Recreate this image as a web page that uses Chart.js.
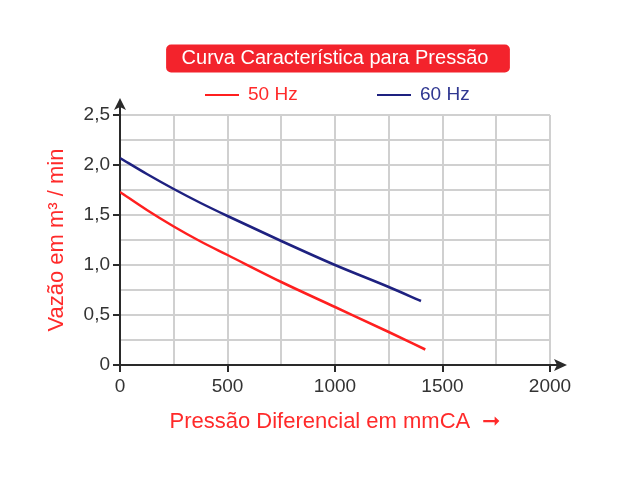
<!DOCTYPE html>
<html>
<head>
<meta charset="utf-8">
<script src="https://cdn.jsdelivr.net/npm/chart.js@4.4.1/dist/chart.umd.min.js"></script>
<style>
html,body{margin:0;padding:0;background:#fff;}
#wrap{width:640px;height:480px;position:relative;}
</style>
</head>
<body>
<div id="wrap"><canvas id="c" width="640" height="480"></canvas></div>
<script>
// ---- data ----
const chartTitle = "Curva Característica para Pressão";
const seriesNames = ["50 Hz", "60 Hz"];
const pressure50 = [0, 125, 250, 375, 500, 750, 1000, 1250, 1420];
const flow50     = [1.73, 1.55, 1.385, 1.235, 1.10, 0.83, 0.58, 0.33, 0.155];
const pressure60 = [0, 125, 250, 375, 500, 750, 1000, 1250, 1400];
const flow60     = [2.07, 1.91, 1.76, 1.62, 1.49, 1.24, 1.00, 0.78, 0.64];
const xTickLabels = ["0", "500", "1000", "1500", "2000"];
const yTickLabels = ["0", "0,5", "1,0", "1,5", "2,0", "2,5"];
const xAxisTitle = "Pressão Diferencial em mmCA  ➞";
const yAxisTitle = "Vazão em m³ / min";

const RED = '#ff1f1f';
const RED_TEXT = '#ff2a2a';
const BOX_RED = '#f3232c';
const BLUE = '#1e2180';
const BLUE_TEXT = '#2f3791';
const FONT = "'Liberation Sans', Arial, sans-serif";

const toPts = (xs, ys) => xs.map((x, i) => ({x: x, y: ys[i]}));

const decor = {
  id: 'decor',
  beforeDraw(chart) {
    const ctx = chart.ctx;
    const tb = chart.titleBlock;
    ctx.save();
    ctx.font = "20px " + FONT;
    const tw = ctx.measureText(chartTitle).width;
    const cx = (tb.left + tb.right) / 2 + 3;
    const cy = tb.top + tb.options.padding.top + 12;
    const w = tw + 37, h = 28;
    ctx.fillStyle = BOX_RED;
    ctx.beginPath();
    ctx.roundRect(cx - w / 2, cy - h / 2, w, h, 5);
    ctx.fill();
    ctx.restore();
  },
  afterDraw(chart) {
    const ctx = chart.ctx;
    const a = chart.chartArea;
    const xs = chart.scales.x, ys = chart.scales.y;
    const x0 = xs.getPixelForValue(0), y0 = ys.getPixelForValue(0);
    ctx.save();
    ctx.strokeStyle = '#2a2a2a';
    ctx.fillStyle = '#2a2a2a';
    ctx.lineWidth = 2;
    // y arrow
    ctx.beginPath();
    ctx.moveTo(x0, a.top); ctx.lineTo(x0, a.top - 10); ctx.stroke();
    ctx.beginPath();
    ctx.moveTo(x0, a.top - 17); ctx.lineTo(x0 - 6, a.top - 5); ctx.lineTo(x0, a.top - 8); ctx.lineTo(x0 + 6, a.top - 5); ctx.closePath(); ctx.fill();
    // x arrow
    ctx.beginPath();
    ctx.moveTo(a.right, y0); ctx.lineTo(a.right + 8, y0); ctx.stroke();
    ctx.beginPath();
    ctx.moveTo(a.right + 17, y0); ctx.lineTo(a.right + 4, y0 - 6); ctx.lineTo(a.right + 7, y0); ctx.lineTo(a.right + 4, y0 + 6); ctx.closePath(); ctx.fill();
    // legend
    const cxm = (a.left + a.right) / 2;
    const ly = 95;
    ctx.font = "19px " + FONT;
    ctx.textBaseline = 'middle';
    ctx.textAlign = 'left';
    const items = [
      {x: cxm - 130, color: RED, text: seriesNames[0], tc: RED_TEXT},
      {x: cxm + 42, color: BLUE, text: seriesNames[1], tc: BLUE_TEXT}
    ];
    items.forEach(it => {
      ctx.strokeStyle = it.color;
      ctx.lineWidth = 2;
      ctx.beginPath(); ctx.moveTo(it.x, ly); ctx.lineTo(it.x + 34, ly); ctx.stroke();
      ctx.fillStyle = it.tc;
      ctx.fillText(it.text, it.x + 43, ly);
    });
    ctx.restore();
  }
};

new Chart(document.getElementById('c'), {
  type: 'line',
  data: {
    datasets: [
      {label: seriesNames[0], data: toPts(pressure50, flow50), borderColor: RED, borderWidth: 2.5, pointRadius: 0, cubicInterpolationMode: 'monotone', fill: false},
      {label: seriesNames[1], data: toPts(pressure60, flow60), borderColor: BLUE, borderWidth: 2.5, pointRadius: 0, cubicInterpolationMode: 'monotone', fill: false}
    ]
  },
  options: {
    responsive: false,
    animation: false,
    devicePixelRatio: 1,
    layout: {padding: {left: 44, right: 90, top: 0, bottom: 0}},
    plugins: {
      legend: {display: false},
      tooltip: {enabled: false},
      title: {
        display: true, text: chartTitle, fullSize: false, color: '#ffffff',
        font: {family: FONT, size: 20, weight: 'normal', lineHeight: 1.2},
        padding: {top: 46.5, bottom: 44.5}
      }
    },
    scales: {
      x: {
        type: 'linear', min: 0, max: 2000,
        afterFit: s => { s.height = 115; },
        ticks: {
          stepSize: 250, autoSkip: false, maxRotation: 0, color: '#333', padding: 3,
          font: {family: FONT, size: 19},
          callback: v => (v % 500 === 0 ? xTickLabels[v / 500] : '')
        },
        grid: {
          color: '#d0d0d0', lineWidth: 2, tickLength: 7,
          tickColor: c => (c.tick && c.tick.value % 500 === 0 ? '#2a2a2a' : 'rgba(0,0,0,0)')
        },
        border: {color: '#2a2a2a', width: 2},
        title: {display: true, text: xAxisTitle, color: RED_TEXT, font: {family: FONT, size: 22}, padding: {top: 0, bottom: 45}}
      },
      y: {
        type: 'linear', min: 0, max: 2.5,
        afterFit: s => { s.width = 76; },
        ticks: {
          stepSize: 0.25, autoSkip: false, color: '#333', padding: 3,
          font: {family: FONT, size: 19},
          callback: v => { const k = Math.round(v * 2); return Math.abs(v * 2 - k) < 1e-6 ? yTickLabels[k] : ''; }
        },
        grid: {
          color: '#d0d0d0', lineWidth: 2, tickLength: 7,
          tickColor: c => { if (!c.tick) return 'rgba(0,0,0,0)'; const v = c.tick.value * 2; return Math.abs(v - Math.round(v)) < 1e-6 ? '#2a2a2a' : 'rgba(0,0,0,0)'; }
        },
        border: {color: '#2a2a2a', width: 2},
        title: {display: true, text: yAxisTitle, color: RED_TEXT, font: {family: FONT, size: 22}, padding: {top: 0, bottom: 0}}
      }
    }
  },
  plugins: [decor]
});
</script>
</body>
</html>
